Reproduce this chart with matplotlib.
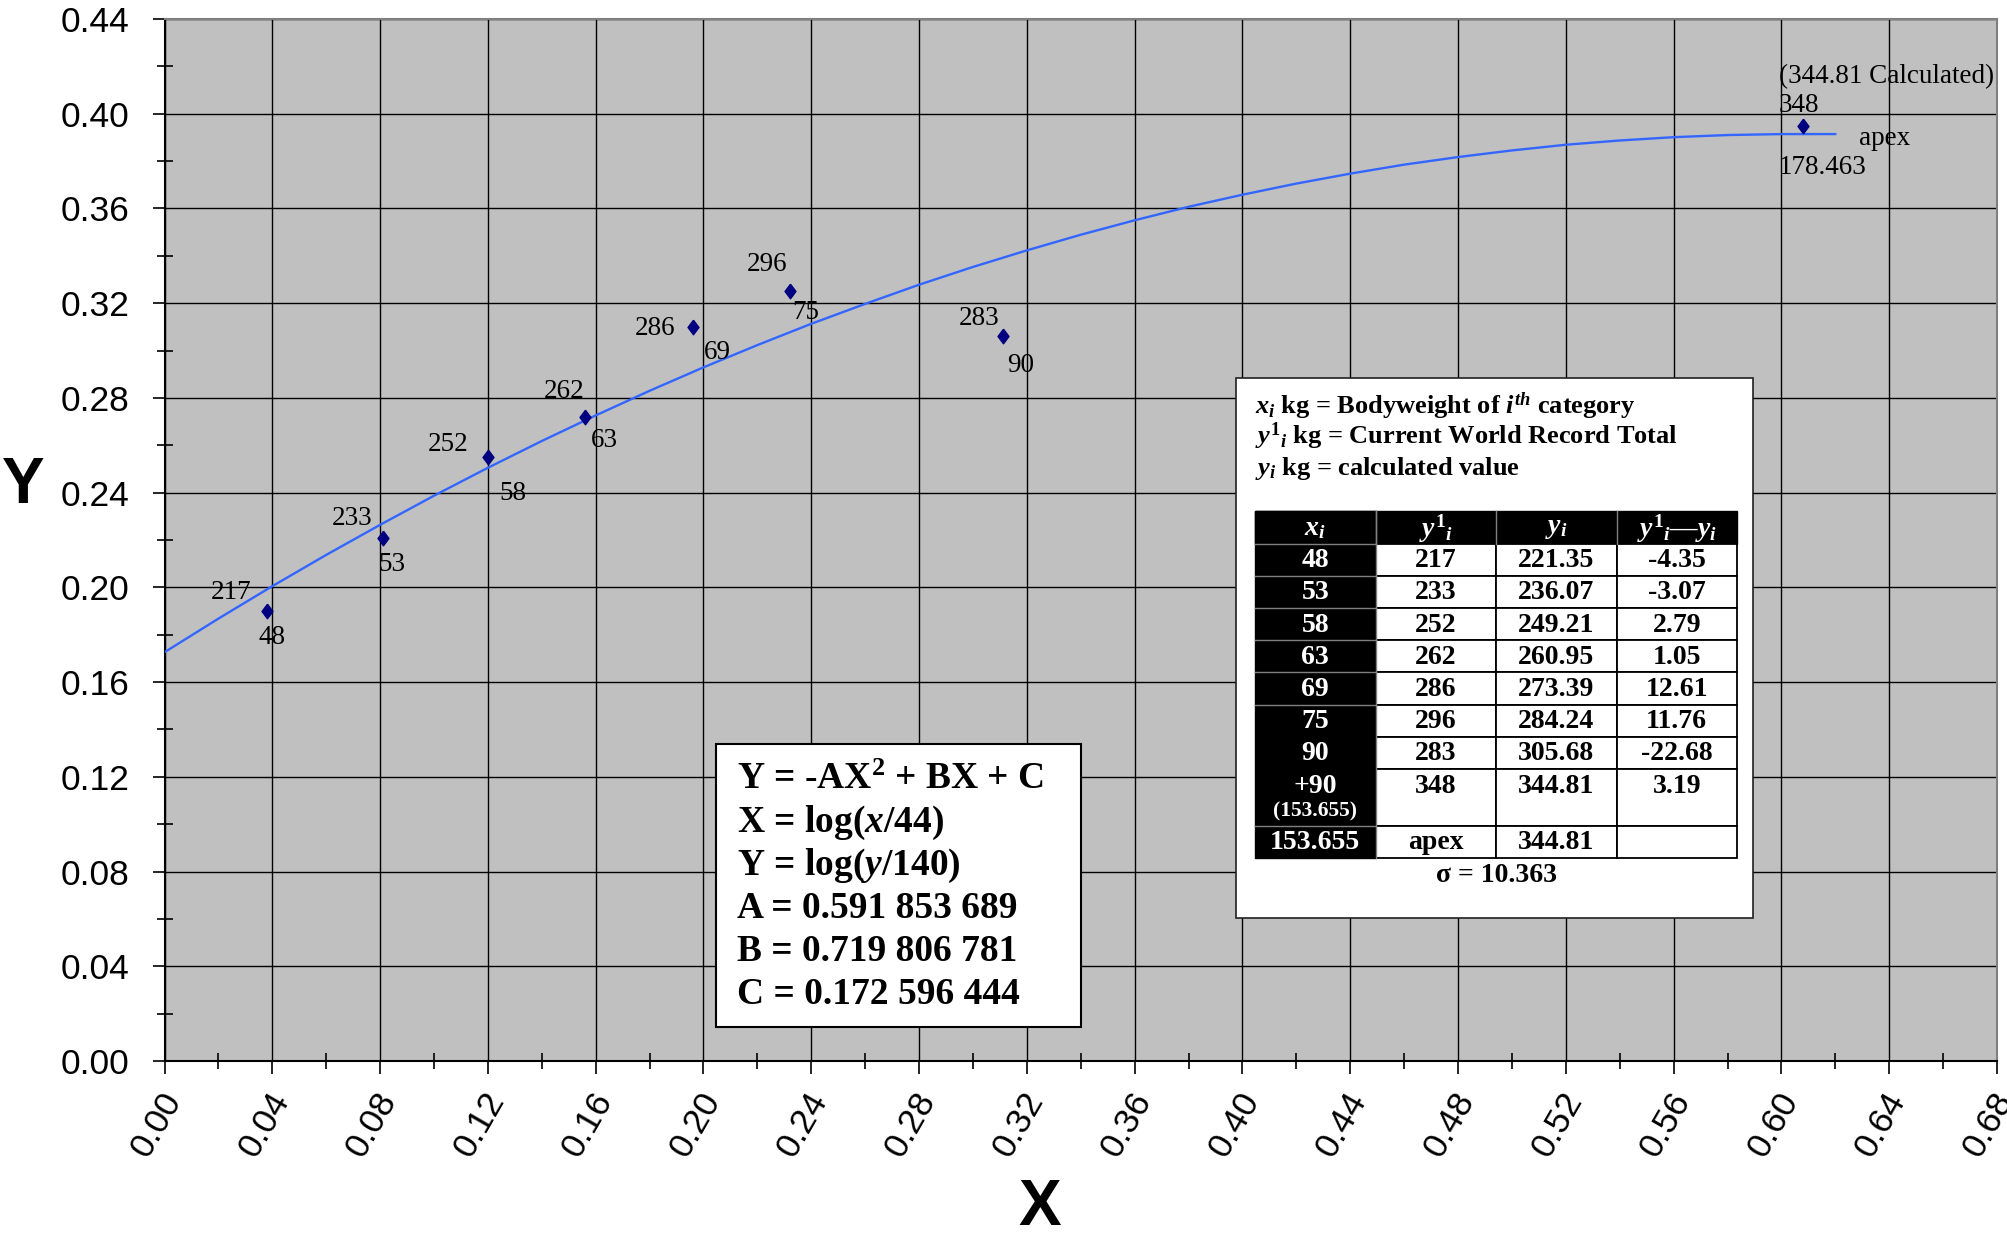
import numpy as np
import matplotlib
matplotlib.use('Agg')
import matplotlib.pyplot as plt
from matplotlib.patches import Rectangle
from matplotlib.ticker import MultipleLocator, FormatStrFormatter
from matplotlib.transforms import ScaledTranslation

plt.rcParams['mathtext.fontset'] = 'custom'
plt.rcParams['mathtext.rm'] = 'Liberation Serif:bold'
plt.rcParams['mathtext.it'] = 'Liberation Serif:italic:bold'
plt.rcParams['mathtext.bf'] = 'Liberation Serif:bold'

# ---- data ----
bodyweight = ['48', '53', '58', '63', '69', '75', '90']
record = ['217', '233', '252', '262', '286', '296', '283']
X_pts = [0.038, 0.081, 0.120, 0.156, 0.196, 0.232, 0.311]
Y_pts = [0.190, 0.221, 0.255, 0.272, 0.310, 0.325, 0.306]

# the +90 record point, plotted at the apex bodyweight
X_top = 0.608
Y_top = 0.395

# fitted curve, read at every 0.02 along X
curve_x = [0.00, 0.02, 0.04, 0.06, 0.08, 0.10, 0.12, 0.14, 0.16, 0.18,
           0.20, 0.22, 0.24, 0.26, 0.28, 0.30, 0.32, 0.34, 0.36, 0.38,
           0.40, 0.42, 0.44, 0.46, 0.48, 0.50, 0.52, 0.54, 0.56, 0.58,
           0.60, 0.62]
curve_y = [0.1726, 0.1868, 0.2005, 0.2137, 0.2264, 0.2387, 0.2505, 0.2618,
           0.2726, 0.2830, 0.2929, 0.3023, 0.3113, 0.3197, 0.3278, 0.3353,
           0.3423, 0.3489, 0.3550, 0.3607, 0.3658, 0.3705, 0.3747, 0.3785,
           0.3817, 0.3845, 0.3869, 0.3887, 0.3901, 0.3910, 0.3914, 0.3914]

# table
tbl_x = ['48', '53', '58', '63', '69', '75', '90', '+90', '153.655']
tbl_rec = ['217', '233', '252', '262', '286', '296', '283', '348', 'apex']
tbl_calc = ['221.35', '236.07', '249.21', '260.95', '273.39', '284.24',
            '305.68', '344.81', '344.81']
tbl_diff = ['-4.35', '-3.07', '2.79', '1.05', '12.61', '11.76', '-22.68',
            '3.19', '']
tbl_head = [r'$x_i$', r'$y^{\mathit{1}}{}_{i}$', r'$y_i$',
            r'$y^{\mathit{1}}{}_{i}$—$y_i$']

eq_lines = [r'Y = -AX$^2$ + BX + C', r'X = log($x$/44)', r'Y = log($y$/140)',
            'A = 0.591 853 689', 'B = 0.719 806 781', 'C = 0.172 596 444']

legend_lines = [r'$x_i$ kg = Bodyweight of $i^{th}$ category',
                r'$y^{\mathit{1}}{}_{i}$ kg = Current World Record Total',
                r'$y_i$ kg = calculated value']

W, H = 2007, 1237
fig = plt.figure(figsize=(W / 100, H / 100), dpi=100)
ax = fig.add_axes([164.5 / W, 1 - 1061 / H, (1997 - 164.5) / W, (1061 - 19) / H])
ax.set_facecolor('#c0c0c0')
ax.set_axisbelow(True)

ax.plot(curve_x, curve_y, color='#3366ff', lw=1.7, zorder=3)
diamond = [(0, 1), (0.75, 0), (0, -1), (-0.75, 0), (0, 1)]
ax.plot(X_pts, Y_pts, ls='none', marker=diamond, ms=10.5, color='#000080', zorder=4)
ax.plot([X_top], [Y_top], ls='none', marker=diamond, ms=10.5, color='#000080', zorder=4)

serif = 'Liberation Serif'
fs_lab = 19.5
rec_off = [(-36, 19), (-31, 19), (-40, 13), (-21, 25), (-38, -2), (-23, 27), (-24, 18)]
bw_off = [(5, -26), (9, -27), (25, -36), (19, -24), (25, -26), (16, -21), (18, -29)]
for i in range(len(X_pts)):
    ax.annotate(record[i], (X_pts[i], Y_pts[i]), xytext=rec_off[i],
                textcoords='offset pixels', ha='center', va='center',
                fontsize=fs_lab, family=serif)
    ax.annotate(bodyweight[i], (X_pts[i], Y_pts[i]), xytext=bw_off[i],
                textcoords='offset pixels', ha='center', va='center',
                fontsize=fs_lab, family=serif)

ax.annotate('(344.81 Calculated)', (X_top, Y_top), xytext=(-24, 49),
            textcoords='offset pixels', ha='left', va='center', fontsize=fs_lab, family=serif)
ax.annotate('348', (X_top, Y_top), xytext=(-24, 20),
            textcoords='offset pixels', ha='left', va='center', fontsize=fs_lab, family=serif)
ax.annotate('apex', (X_top, Y_top), xytext=(56, -13),
            textcoords='offset pixels', ha='left', va='center', fontsize=fs_lab, family=serif)
ax.annotate('178.463', (X_top, Y_top), xytext=(-24, -42),
            textcoords='offset pixels', ha='left', va='center', fontsize=fs_lab, family=serif)

ax.set_xlim(0, 0.68)
ax.set_ylim(0, 0.44)
ax.xaxis.set_major_locator(MultipleLocator(0.04))
ax.xaxis.set_minor_locator(MultipleLocator(0.02))
ax.yaxis.set_major_locator(MultipleLocator(0.04))
ax.yaxis.set_minor_locator(MultipleLocator(0.02))
ax.xaxis.set_major_formatter(FormatStrFormatter('%.2f'))
ax.yaxis.set_major_formatter(FormatStrFormatter('%.2f'))
ax.grid(True, which='major', color='black', lw=1.0)
ax.tick_params(which='major', direction='out', length=9, width=1.2, color='black')
ax.tick_params(which='minor', direction='inout', length=12, width=1.2, color='black')
ax.tick_params(axis='y', which='major', pad=16, labelsize=25.5)
ax.tick_params(axis='x', which='major', pad=15, labelsize=25.5)
shift = ScaledTranslation(9 / 100, 0, fig.dpi_scale_trans)
for lab in ax.get_yticklabels():
    lab.set_family('Liberation Sans')
for lab in ax.get_xticklabels():
    lab.set_family('Liberation Sans')
    lab.set_rotation(60)
    lab.set_ha('right')
    lab.set_va('center')
    lab.set_rotation_mode('anchor')
    lab.set_transform(lab.get_transform() + shift)
for s in ['left', 'bottom']:
    ax.spines[s].set_color('black')
    ax.spines[s].set_linewidth(1.5)
for s in ['top', 'right']:
    ax.spines[s].set_color('#808080')
    ax.spines[s].set_linewidth(1.5)

fig.text(23 / W, 1 - 486 / H, 'Y', fontsize=46, fontweight='bold',
         family='Liberation Sans', ha='center', va='center')
fig.text(1040 / W, 1 - 1208 / H, 'X', fontsize=46, fontweight='bold',
         family='Liberation Sans', ha='center', va='center')

# overlay in pixel coordinates for the boxes
ov = fig.add_axes([0, 0, 1, 1], zorder=5)
ov.set_xlim(0, W)
ov.set_ylim(H, 0)
ov.axis('off')

# equation box
ov.add_patch(Rectangle((716, 744), 365, 283, fc='white', ec='black', lw=1.5))
eq_base = [789, 832, 875, 918, 961, 1004]
for line, yb in zip(eq_lines, eq_base):
    ov.text(737, yb, line, fontsize=27, fontweight='bold', family=serif,
            ha='left', va='baseline')

# table box
ov.add_patch(Rectangle((1236, 378), 517, 540, fc='white', ec='#202020', lw=1.2))
for line, yb in zip(legend_lines, [414, 444, 475]):
    ov.text(1255, yb, line, fontsize=19, fontweight='bold', family=serif,
            ha='left', va='baseline')

col_edges = [1255, 1375.5, 1496, 1616.5, 1737]
rh = 32.2
# row heights: header, 7 rows, +90 (tall), 153.655
heights = [rh] + [rh] * 7 + [rh * 1.76, rh]
row_top = [511.4]
for h in heights[:-1]:
    row_top.append(row_top[-1] + h)
tbl_bottom = row_top[-1] + heights[-1]

# black header row and first column
ov.add_patch(Rectangle((col_edges[0], row_top[0]), col_edges[-1] - col_edges[0],
                       heights[0], fc='black', ec='black', lw=1))
ov.add_patch(Rectangle((col_edges[0], row_top[0]), col_edges[1] - col_edges[0],
                       tbl_bottom - row_top[0], fc='black', ec='black', lw=1))
# white cells
for r in range(1, len(heights)):
    for c in range(1, 4):
        ov.add_patch(Rectangle((col_edges[c], row_top[r]), col_edges[c + 1] - col_edges[c],
                               heights[r], fc='white', ec='black', lw=1.3))
# grey separators
for c in range(1, 4):
    ov.plot([col_edges[c], col_edges[c]], [row_top[0], row_top[1]], color='#808080', lw=1)
for r in [1, 2, 3, 4, 5, 6, 9]:
    ov.plot([col_edges[0], col_edges[1]], [row_top[r], row_top[r]], color='#808080', lw=1)
ov.plot([col_edges[1], col_edges[1]], [row_top[0], tbl_bottom], color='#808080', lw=1)

cx = [(col_edges[c] + col_edges[c + 1]) / 2 for c in range(4)]
for c, t in enumerate(tbl_head):
    ov.text(cx[c], row_top[0] + heights[0] / 2 + 1, t, color='white', fontsize=20,
            fontstyle='italic', fontweight='bold', family=serif, ha='center', va='center')
cols = [tbl_x, tbl_rec, tbl_calc, tbl_diff]
for r in range(len(tbl_x)):
    yc = row_top[r + 1] + rh / 2 + 1
    for c in range(4):
        ov.text(cx[c], yc, cols[c][r], color='white' if c == 0 else 'black',
                fontsize=20, fontweight='bold', family=serif, ha='center', va='center')
ov.text(cx[0], row_top[8] + rh * 1.3 + 1, '(153.655)', color='white', fontsize=15.5,
        fontweight='bold', family=serif, ha='center', va='center')
ov.text((col_edges[0] + col_edges[-1]) / 2, 875, 'σ = 10.363', fontsize=20,
        fontweight='bold', family=serif, ha='center', va='center')

fig.savefig('out.png', dpi=100)
